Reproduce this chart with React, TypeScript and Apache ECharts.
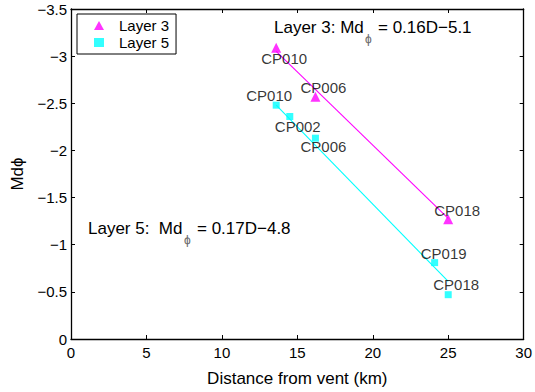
import React, { useEffect, useRef } from "react";
import * as echarts from "echarts";

const layer3Names = ["CP010", "CP006", "CP018"];
const layer3Dist = [13.6, 16.2, 25.0];
const layer3Md = [-3.09, -2.57, -1.27];

const layer5Names = ["CP010", "CP002", "CP006", "CP019", "CP018"];
const layer5Dist = [13.6, 14.5, 16.2, 24.1, 25.0];
const layer5Md = [-2.48, -2.36, -2.13, -0.81, -0.47];

const fit3X = [13.6, 25.0];
const fit3Y = [-3.05, -1.28];
const fit5X = [13.6, 25.0];
const fit5Y = [-2.48, -0.61];

const xTicks = { min: 0, max: 30, interval: 5 };
const yTicks = { min: -3.5, max: 0, interval: 0.5 };

// label offsets (layout only), keyed by point name
const labelOffsets3: Record<string, [number, number]> = {
  CP010: [8, 11],
  CP006: [8, -9],
  CP018: [9, -9],
};
const labelOffsets5: Record<string, [number, number]> = {
  CP010: [-7, -10],
  CP002: [8, 10],
  CP006: [8, 8],
  CP019: [9, -9],
  CP018: [8, -10],
};

const FONT = "'Liberation Sans', Arial, Helvetica, sans-serif";
const fmt = (v: number) => (v === 0 ? "0" : String(v).replace("-", "\u2212"));

export default function App() {
  const ref = useRef<HTMLDivElement>(null);
  useEffect(() => {
    if (!ref.current) return;
    const chart = echarts.init(ref.current, undefined, { renderer: "svg" });
    const axisLine = { show: true, onZero: false, lineStyle: { color: "#000", width: 1.3 } };
    const tick = { show: true, inside: true, length: 4, lineStyle: { color: "#000", width: 1 } };
    const mkLabel = (offs: Record<string, [number, number]>, name: string) => ({
      show: true,
      position: "inside",
      offset: offs[name],
      formatter: name,
      color: "#000",
      fontSize: 15,
      fontFamily: FONT,
    });
    const option: any = {
      animation: false,
      textStyle: { fontFamily: FONT },
      grid: { left: 71, right: 10, top: 9, bottom: 45, containLabel: false },
      legend: {
        data: [
          { name: "Layer 3", icon: "triangle", itemStyle: { color: "#ff00ff" } },
          { name: "Layer 5", icon: "rect", itemStyle: { color: "#00ffff" } },
        ],
        orient: "vertical",
        left: 77,
        top: 14,
        borderColor: "#000",
        borderWidth: 1,
        borderRadius: 0,
        padding: [4, 7, 4, 17],
        itemGap: 2,
        itemWidth: 10,
        itemHeight: 9,
        backgroundColor: "#fff",
        textStyle: { fontSize: 15, color: "#000", fontFamily: FONT, padding: [0, 0, 0, 10] },
      },
      xAxis: [
        {
          type: "value",
          ...xTicks,
          position: "bottom",
          axisLine,
          axisTick: tick,
          splitLine: { show: false },
          axisLabel: { color: "#000", fontSize: 15, margin: 6, formatter: fmt },
          name: "Distance from vent (km)",
          nameLocation: "middle",
          nameGap: 31,
          nameTextStyle: { color: "#000", fontSize: 17, fontFamily: FONT },
        },
        {
          type: "value",
          ...xTicks,
          position: "top",
          axisLine,
          axisTick: tick,
          splitLine: { show: false },
          axisLabel: { show: false },
        },
      ],
      yAxis: [
        {
          type: "value",
          ...yTicks,
          inverse: true,
          position: "left",
          axisLine,
          axisTick: tick,
          splitLine: { show: false },
          axisLabel: { color: "#000", fontSize: 15, margin: 4, formatter: fmt },
          name: "Md\u03d5",
          nameLocation: "middle",
          nameGap: 40,
          nameRotate: 90,
          nameTextStyle: { color: "#000", fontSize: 17, fontFamily: FONT },
        },
        {
          type: "value",
          ...yTicks,
          inverse: true,
          position: "right",
          axisLine,
          axisTick: tick,
          splitLine: { show: false },
          axisLabel: { show: false },
        },
      ],
      series: [
        {
          name: "fit3",
          type: "line",
          data: fit3X.map((x, i) => [x, fit3Y[i]]),
          showSymbol: false,
          symbol: "none",
          color: "#ff00ff",
          lineStyle: { color: "#ff00ff", width: 1.1, opacity: 1 },
          silent: true,
          z: 2,
        },
        {
          name: "fit5",
          type: "line",
          data: fit5X.map((x, i) => [x, fit5Y[i]]),
          showSymbol: false,
          symbol: "none",
          color: "#00ffff",
          lineStyle: { color: "#00ffff", width: 1.1, opacity: 1 },
          silent: true,
          z: 2,
        },
        {
          name: "Layer 3",
          type: "scatter",
          symbol: "triangle",
          symbolSize: 10,
          itemStyle: { color: "#ff00ff" },
          data: layer3Names.map((n, i) => ({
            value: [layer3Dist[i], layer3Md[i]],
            label: mkLabel(labelOffsets3, n),
          })),
          z: 3,
        },
        {
          name: "Layer 5",
          type: "scatter",
          symbol: "rect",
          symbolSize: 7,
          itemStyle: { color: "#00ffff" },
          data: layer5Names.map((n, i) => ({
            value: [layer5Dist[i], layer5Md[i]],
            label: mkLabel(labelOffsets5, n),
          })),
          z: 3,
        },
      ],
      graphic: [
        { type: "text", left: 274, top: 19, style: { text: "Layer 3: Md", fontSize: 17, fontFamily: FONT, fill: "#000" } },
        { type: "text", left: 365, top: 33, style: { text: "\u03d5", fontSize: 12, fontFamily: FONT, fill: "#666" } },
        { type: "text", left: 378, top: 19, style: { text: "= 0.16D\u22125.1", fontSize: 17, fontFamily: FONT, fill: "#000" } },
        { type: "text", left: 88, top: 220, style: { text: "Layer 5:  Md", fontSize: 17, fontFamily: FONT, fill: "#000" } },
        { type: "text", left: 184, top: 234, style: { text: "\u03d5", fontSize: 12, fontFamily: FONT, fill: "#666" } },
        { type: "text", left: 197, top: 220, style: { text: "= 0.17D\u22124.8", fontSize: 17, fontFamily: FONT, fill: "#000" } },
      ],
    };
    chart.setOption(option);
    return () => chart.dispose();
  }, []);
  return (
    <div
      ref={ref}
      style={{ position: "absolute", left: 0, top: 0, width: 535, height: 392, background: "#fff" }}
    />
  );
}
